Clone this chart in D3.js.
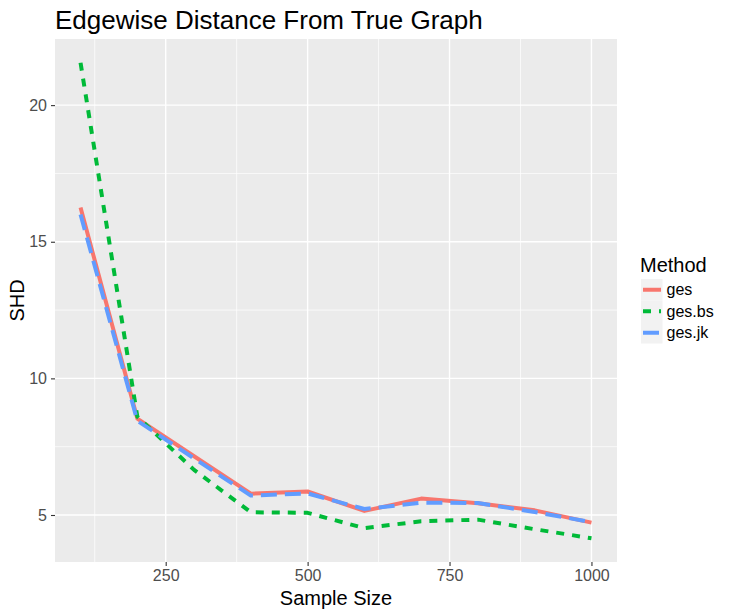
<!DOCTYPE html>
<html>
<head>
<meta charset="utf-8">
<script src="https://cdn.jsdelivr.net/npm/d3@7"></script>
<style>
  body { margin: 0; background: #fff; }
  text { font-family: "Liberation Sans", Arial, sans-serif; }
</style>
</head>
<body>
<svg id="chart"></svg>
<script>
const width = 729;
const height = 616;

// data
const sampleSize = [100, 200, 300, 400, 500, 600, 700, 800, 900, 1000];
const ges   = [16.25, 8.53, 7.15, 5.78, 5.86, 5.15, 5.60, 5.43, 5.17, 4.72];
const gesBs = [21.55, 8.60, 6.65, 5.10, 5.08, 4.52, 4.77, 4.83, 4.48, 4.15];
const gesJk = [16.00, 8.45, 7.07, 5.71, 5.79, 5.22, 5.45, 5.44, 5.11, 4.74];

const methods = ["ges", "ges.bs", "ges.jk"];
const methodValues = [ges, gesBs, gesJk];
const colors = ["#F8766D", "#00BA38", "#619CFF"];
const dashes = [null, "8,8", "16,8"];

const xTicks = [250, 500, 750, 1000];
const xMinor = [125, 375, 625, 875];
const yTicks = [5, 10, 15, 20];
const yMinor = [7.5, 12.5, 17.5];

const panel = { left: 55, right: 617, top: 39, bottom: 562 };

const svg = d3.select("#chart")
    .attr("width", width)
    .attr("height", height);

// ggplot-style 5% expansion
function expand(ext) {
    const pad = (ext[1] - ext[0]) * 0.05;
    return [ext[0] - pad, ext[1] + pad];
}

const allY = methodValues.flat();
const x = d3.scaleLinear()
    .domain(expand(d3.extent(sampleSize)))
    .range([panel.left, panel.right]);
const y = d3.scaleLinear()
    .domain(expand(d3.extent(allY)))
    .range([panel.bottom, panel.top]);

// panel background
svg.append("rect")
    .attr("x", panel.left)
    .attr("y", panel.top)
    .attr("width", panel.right - panel.left)
    .attr("height", panel.bottom - panel.top)
    .attr("fill", "#EBEBEB");

const grid = svg.append("g").attr("stroke", "#fff");

grid.selectAll(".xminor").data(xMinor).join("line")
    .attr("x1", d => x(d)).attr("x2", d => x(d))
    .attr("y1", panel.top).attr("y2", panel.bottom)
    .attr("stroke-width", 0.7);
grid.selectAll(".yminor").data(yMinor).join("line")
    .attr("y1", d => y(d)).attr("y2", d => y(d))
    .attr("x1", panel.left).attr("x2", panel.right)
    .attr("stroke-width", 0.7);
grid.selectAll(".xmajor").data(xTicks).join("line")
    .attr("x1", d => x(d)).attr("x2", d => x(d))
    .attr("y1", panel.top).attr("y2", panel.bottom)
    .attr("stroke-width", 1.4);
grid.selectAll(".ymajor").data(yTicks).join("line")
    .attr("y1", d => y(d)).attr("y2", d => y(d))
    .attr("x1", panel.left).attr("x2", panel.right)
    .attr("stroke-width", 1.4);

// axes
const xAxis = svg.append("g")
    .attr("transform", `translate(0,${panel.bottom})`)
    .call(d3.axisBottom(x).tickValues(xTicks).tickFormat(d3.format("d"))
        .tickSize(4).tickPadding(4));
const yAxis = svg.append("g")
    .attr("transform", `translate(${panel.left},0)`)
    .call(d3.axisLeft(y).tickValues(yTicks).tickFormat(d3.format("d"))
        .tickSize(4).tickPadding(4));

[xAxis, yAxis].forEach(a => {
    a.select(".domain").remove();
    a.selectAll(".tick line").attr("stroke", "#333333").attr("stroke-width", 1.1);
    a.selectAll(".tick text")
        .attr("fill", "#4D4D4D")
        .attr("font-size", 16)
        .attr("font-family", "Liberation Sans, Arial, sans-serif");
});

// lines
const line = d3.line()
    .x((d, i) => x(sampleSize[i]))
    .y(d => y(d));

svg.append("g")
    .selectAll("path")
    .data(methodValues)
    .join("path")
    .attr("d", d => line(d))
    .attr("fill", "none")
    .attr("stroke", (d, i) => colors[i])
    .attr("stroke-width", 4)
    .attr("stroke-dasharray", (d, i) => dashes[i])
    .attr("stroke-linecap", "butt")
    .attr("stroke-linejoin", "round");

// titles
svg.append("text")
    .attr("x", panel.left)
    .attr("y", 29)
    .attr("font-size", 26)
    .text("Edgewise Distance From True Graph");

svg.append("text")
    .attr("x", (panel.left + panel.right) / 2)
    .attr("y", 605)
    .attr("text-anchor", "middle")
    .attr("font-size", 20)
    .text("Sample Size");

svg.append("text")
    .attr("transform", `translate(24,${(panel.top + panel.bottom) / 2}) rotate(-90)`)
    .attr("text-anchor", "middle")
    .attr("font-size", 20)
    .text("SHD");

// legend
const legend = svg.append("g").attr("transform", "translate(640,279)");
legend.append("text")
    .attr("x", 0)
    .attr("y", -7)
    .attr("font-size", 20)
    .text("Method");

const keySize = 21.5;
const item = legend.selectAll(".item")
    .data(methods)
    .join("g")
    .attr("transform", (d, i) => `translate(0,${i * keySize})`);

item.append("rect")
    .attr("x", 1)
    .attr("width", keySize)
    .attr("height", keySize)
    .attr("fill", "#F2F2F2");
item.append("line")
    .attr("x1", 3)
    .attr("x2", keySize - 0.5)
    .attr("y1", keySize / 2)
    .attr("y2", keySize / 2)
    .attr("stroke", (d, i) => colors[i])
    .attr("stroke-width", 4)
    .attr("stroke-dasharray", (d, i) => dashes[i]);
item.append("text")
    .attr("x", keySize + 5)
    .attr("y", keySize / 2 + 5.5)
    .attr("font-size", 16)
    .text(d => d);
</script>
</body>
</html>
